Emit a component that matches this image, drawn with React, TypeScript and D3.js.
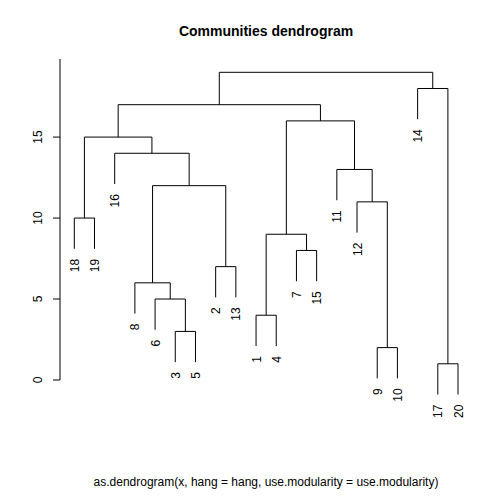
import React from 'react';
import * as d3 from 'd3';

// leaf order along the x axis
const leafOrder = ['18', '19', '16', '8', '6', '3', '5', '2', '13', '1', '4', '7', '15', '11', '12', '9', '10', '14', '17', '20'];
// merges: [left, right, height]; references are leaf labels or merge ids "m<i>"
const merges: [string, string, number][] = [
  ['18', '19', 10],   // m0
  ['3', '5', 3],      // m1
  ['6', 'm1', 5],     // m2
  ['8', 'm2', 6],     // m3
  ['2', '13', 7],     // m4
  ['m3', 'm4', 12],   // m5
  ['16', 'm5', 14],   // m6
  ['m0', 'm6', 15],   // m7
  ['1', '4', 4],      // m8
  ['7', '15', 8],     // m9
  ['m8', 'm9', 9],    // m10
  ['9', '10', 2],     // m11
  ['12', 'm11', 11],  // m12
  ['11', 'm12', 13],  // m13
  ['m10', 'm13', 16], // m14
  ['m7', 'm14', 17],  // m15
  ['17', '20', 1],    // m16
  ['14', 'm16', 18],  // m17
  ['m15', 'm17', 19], // m18
];
const yTicks = [0, 5, 10, 15];
const hang = 1.9;

export default function App() {
  const x = d3.scalePoint<string>().domain(leafOrder).range([74.3, 458]);
  const y = d3.scaleLinear().domain([0, 19]).range([380, 72.3]);

  const pos: Record<string, { x: number; h: number; leaf: boolean }> = {};
  leafOrder.forEach(l => (pos[l] = { x: x(l)!, h: 0, leaf: true }));
  const segs: string[] = [];
  const leafEnds: { label: string; x: number; y: number }[] = [];
  merges.forEach(([a, b, h], i) => {
    const pa = pos[a], pb = pos[b];
    const ya = pa.leaf ? h - hang : pa.h;
    const yb = pb.leaf ? h - hang : pb.h;
    if (pa.leaf) leafEnds.push({ label: a, x: pa.x, y: y(ya) });
    if (pb.leaf) leafEnds.push({ label: b, x: pb.x, y: y(yb) });
    const path = d3.path();
    path.moveTo(pa.x, y(ya));
    path.lineTo(pa.x, y(h));
    path.lineTo(pb.x, y(h));
    path.lineTo(pb.x, y(yb));
    segs.push(path.toString());
    pos['m' + i] = { x: (pa.x + pb.x) / 2, h, leaf: false };
  });

  const font = 'Liberation Sans, Arial, sans-serif';
  return (
    <svg width={504} height={504} style={{ position: 'absolute', left: 0, top: 0, background: '#fff' }} fontFamily={font}>
      <text x={266} y={36} textAnchor="middle" fontWeight="bold" fontSize={14}>Communities dendrogram</text>
      {segs.map((d, i) => <path key={i} d={d} fill="none" stroke="#000" strokeWidth={1} />)}
      {leafEnds.map(l => (
        <text key={l.label} transform={`translate(${l.x + 4.5},${l.y + 10}) rotate(-90)`} textAnchor="end" fontSize={12}>{l.label}</text>
      ))}
      <line x1={60} x2={60} y1={y(0)} y2={59} stroke="#000" />
      {yTicks.map(t => (
        <g key={t}>
          <line x1={53} x2={60} y1={y(t)} y2={y(t)} stroke="#000" />
          <text transform={`translate(${42},${y(t)}) rotate(-90)`} textAnchor="middle" fontSize={12}>{t}</text>
        </g>
      ))}
      <text x={266} y={486} textAnchor="middle" fontSize={12}>as.dendrogram(x, hang = hang, use.modularity = use.modularity)</text>
    </svg>
  );
}
